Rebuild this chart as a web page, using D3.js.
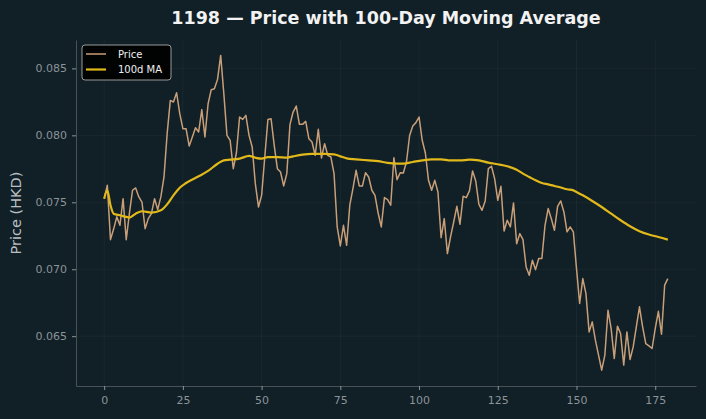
<!DOCTYPE html>
<html>
<head>
<meta charset="utf-8">
<script src="https://cdn.jsdelivr.net/npm/d3@7"></script>
<style>
  body { margin: 0; background: #111f26; }
  svg { display: block; }
</style>
</head>
<body>
<svg id="chart"></svg>
<script>
var title = "1198 \u2014 Price with 100-Day Moving Average";

// daily close, index 0..179
var price = [
  0.07527, 0.07627, 0.07221, 0.07300, 0.07391, 0.07328, 0.07527, 0.07221, 0.07415, 0.07590,
  0.07607, 0.07540, 0.07502, 0.07303, 0.07378, 0.07415, 0.07527, 0.07445, 0.07540, 0.07689,
  0.08013, 0.08261, 0.08249, 0.08318, 0.08162, 0.08050, 0.08050, 0.07920, 0.07988, 0.08057,
  0.08025, 0.08192, 0.07988, 0.08236, 0.08341, 0.08348, 0.08418, 0.08597, 0.08311, 0.08000,
  0.07963, 0.07751, 0.07870, 0.08137, 0.08119, 0.08149, 0.08000, 0.07913, 0.07639, 0.07465,
  0.07552, 0.07838, 0.08119, 0.08124, 0.07925, 0.07751, 0.07726, 0.07622, 0.07714, 0.08080,
  0.08174, 0.08219, 0.08082, 0.08082, 0.08104, 0.07975, 0.07950, 0.07851, 0.08045, 0.07831,
  0.07938, 0.07851, 0.07838, 0.07714, 0.07316, 0.07174, 0.07328, 0.07179, 0.07478, 0.07602,
  0.07739, 0.07622, 0.07622, 0.07721, 0.07689, 0.07590, 0.07552, 0.07420, 0.07316, 0.07535,
  0.07520, 0.07478, 0.07833, 0.07669, 0.07721, 0.07719, 0.07801, 0.07999, 0.08070, 0.08095,
  0.08137, 0.07963, 0.07868, 0.07664, 0.07590, 0.07664, 0.07577, 0.07236, 0.07378, 0.07117,
  0.07241, 0.07353, 0.07470, 0.07336, 0.07545, 0.07535, 0.07585, 0.07734, 0.07659, 0.07485,
  0.07440, 0.07510, 0.07751, 0.07769, 0.07677, 0.07515, 0.07619, 0.07286, 0.07366, 0.07316,
  0.07495, 0.07190, 0.07266, 0.07221, 0.07017, 0.06955, 0.07067, 0.06997, 0.07080, 0.07080,
  0.07328, 0.07453, 0.07378, 0.07291, 0.07470, 0.07510, 0.07428, 0.07279, 0.07316, 0.07279,
  0.07005, 0.06744, 0.06930, 0.06818, 0.06532, 0.06607, 0.06470, 0.06358, 0.06246, 0.06358,
  0.06694, 0.06557, 0.06333, 0.06575, 0.06520, 0.06284, 0.06532, 0.06326, 0.06420, 0.06570,
  0.06719, 0.06570, 0.06445, 0.06428, 0.06408, 0.06557, 0.06686, 0.06515, 0.06881, 0.06930
];

// 100d moving average, read at these days
var maDays = [0, 1, 2, 3, 5, 7, 8, 10, 12, 15, 18, 20, 22, 24, 26, 30, 33, 36, 38, 40,
  43, 46, 48, 50, 52, 55, 58, 60, 63, 66, 70, 73, 75, 77, 80, 84, 87, 90, 93, 95,
  98, 101, 104, 107, 110, 113, 116, 119, 122, 125, 128, 131, 133, 135, 137, 139, 141, 143, 145, 147,
  149, 150, 152, 155, 158, 161, 164, 167, 170, 173, 176, 179];
var maValues = [0.07527, 0.07590, 0.07478, 0.07415, 0.07403, 0.07391, 0.07386, 0.07415, 0.07433, 0.07423,
  0.07440, 0.07485, 0.07552, 0.07609, 0.07644, 0.07694, 0.07734, 0.07788, 0.07813, 0.07818,
  0.07826, 0.07846, 0.07833, 0.07826, 0.07838, 0.07838, 0.07833, 0.07843, 0.07856, 0.07861,
  0.07861, 0.07858, 0.07843, 0.07828, 0.07821, 0.07813, 0.07807, 0.07794, 0.07789, 0.07789,
  0.07801, 0.07813, 0.07821, 0.07821, 0.07813, 0.07813, 0.07818, 0.07813, 0.07796, 0.07784,
  0.07769, 0.07743, 0.07714, 0.07689, 0.07664, 0.07644, 0.07634, 0.07622, 0.07610, 0.07597,
  0.07589, 0.07577, 0.07552, 0.07510, 0.07465, 0.07415, 0.07366, 0.07321, 0.07284, 0.07259,
  0.07241, 0.07221];

var xTicks = [0, 25, 50, 75, 100, 125, 150, 175];
var yTicks = [0.065, 0.070, 0.075, 0.080, 0.085];

var W = 706, H = 419;
var margin = { top: 40, right: 10, bottom: 33, left: 76 },
  width = W - margin.left - margin.right,
  height = H - margin.top - margin.bottom;

var bg = "#111f26";
var priceColor = "#c89f78";
var maColor = "#e1b91a";
var tickColor = "#8a9499";

var svg = d3.select("#chart").attr("width", W).attr("height", H);

svg.append("rect").attr("width", W).attr("height", H).attr("fill", bg);

var g = svg.append("g")
  .attr("transform", "translate(" + margin.left + "," + margin.top + ")");

var x = d3.scaleLinear().domain([-8.95, 187.95]).range([0, width]);
var y = d3.scaleLinear().domain([0.06128, 0.08712]).range([height, 0]);

// grid
g.append("g")
  .selectAll("line")
  .data(xTicks)
  .enter()
  .append("line")
  .attr("x1", function (d) { return x(d); })
  .attr("x2", function (d) { return x(d); })
  .attr("y1", 0)
  .attr("y2", height)
  .attr("stroke", "#ffffff")
  .attr("stroke-opacity", 0.04);

g.append("g")
  .selectAll("line")
  .data(yTicks)
  .enter()
  .append("line")
  .attr("x1", 0)
  .attr("x2", width)
  .attr("y1", function (d) { return y(d); })
  .attr("y2", function (d) { return y(d); })
  .attr("stroke", "#ffffff")
  .attr("stroke-opacity", 0.04);

// axes
var xAxis = g.append("g")
  .attr("transform", "translate(0," + height + ")")
  .call(d3.axisBottom(x).tickValues(xTicks).tickSize(4).tickPadding(6).tickSizeOuter(0));

var yAxis = g.append("g")
  .call(d3.axisLeft(y).tickValues(yTicks).tickFormat(d3.format(".3f")).tickSize(4).tickPadding(5).tickSizeOuter(0));

[xAxis, yAxis].forEach(function (a) {
  a.select(".domain").attr("stroke", "#4a5256").attr("stroke-width", 1);
  a.selectAll(".tick line").attr("stroke", tickColor);
  a.selectAll(".tick text")
    .attr("fill", tickColor)
    .style("font-family", "DejaVu Sans, sans-serif")
    .style("font-size", "11px");
});

// lines
var priceLine = d3.line()
  .x(function (d, i) { return x(i); })
  .y(function (d) { return y(d); });

g.append("path")
  .datum(price)
  .attr("fill", "none")
  .attr("stroke", priceColor)
  .attr("stroke-width", 1.5)
  .attr("stroke-linejoin", "round")
  .attr("d", priceLine);

var maLine = d3.line()
  .curve(d3.curveMonotoneX)
  .x(function (d, i) { return x(maDays[i]); })
  .y(function (d) { return y(d); });

g.append("path")
  .datum(maValues)
  .attr("fill", "none")
  .attr("stroke", maColor)
  .attr("stroke-width", 2.2)
  .attr("stroke-linejoin", "round")
  .attr("d", maLine);

// title + y label
svg.append("text")
  .attr("x", margin.left + width / 2)
  .attr("y", 24)
  .attr("text-anchor", "middle")
  .style("font-family", "DejaVu Sans, sans-serif")
  .style("font-weight", "bold")
  .style("font-size", "17.5px")
  .attr("fill", "#f2f2f2")
  .text(title);

svg.append("text")
  .attr("transform", "translate(21," + (margin.top + height / 2) + ") rotate(-90)")
  .attr("text-anchor", "middle")
  .style("font-family", "DejaVu Sans, sans-serif")
  .style("font-size", "14.5px")
  .attr("fill", "#b9c0c3")
  .text("Price (HKD)");

// legend
var legend = g.append("g").attr("transform", "translate(6,5)");
legend.append("rect")
  .attr("width", 89)
  .attr("height", 35)
  .attr("rx", 3)
  .attr("fill", "#000000")
  .attr("fill-opacity", 0.9)
  .attr("stroke", "#9a9a9a")
  .attr("stroke-width", 1);

var items = [
  { label: "Price", color: priceColor, w: 1.5 },
  { label: "100d MA", color: maColor, w: 2.2 }
];

items.forEach(function (d, i) {
  var yy = 9 + i * 15.5;
  legend.append("line")
    .attr("x1", 4).attr("x2", 24)
    .attr("y1", yy).attr("y2", yy)
    .attr("stroke", d.color)
    .attr("stroke-width", d.w);
  legend.append("text")
    .attr("x", 36)
    .attr("y", yy + 3.5)
    .style("font-family", "DejaVu Sans, sans-serif")
    .style("font-size", "10px")
    .attr("fill", "#f0f0f0")
    .text(d.label);
});
</script>
</body>
</html>
